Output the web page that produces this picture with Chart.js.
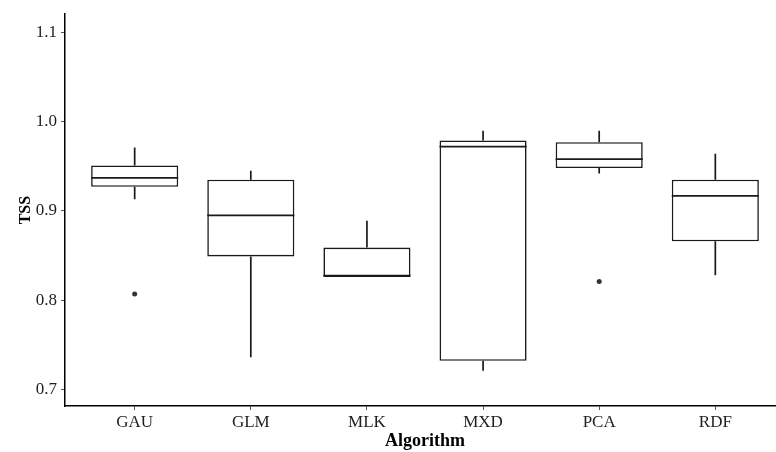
<!DOCTYPE html>
<html>
<head>
<meta charset="utf-8">
<script src="https://cdn.jsdelivr.net/npm/chart.js@4.4.0/dist/chart.umd.min.js"></script>
<style>
  html, body { margin: 0; padding: 0; overflow: hidden; background: #fff; }
  #wrap { width: 789px; height: 452px; }
</style>
</head>
<body>
<div id="wrap"><canvas id="tssChart" width="789" height="452"></canvas></div>
<script>
// box plot values
const algorithms = ['GAU', 'GLM', 'MLK', 'MXD', 'PCA', 'RDF'];
const whiskerLow = [0.913, 0.736, 0.826, 0.721, 0.942, 0.828];
const q1 = [0.927, 0.849, 0.826, 0.732, 0.948, 0.866];
const median = [0.937, 0.895, 0.8275, 0.972, 0.958, 0.917];
const q3 = [0.951, 0.935, 0.859, 0.979, 0.977, 0.935];
const whiskerHigh = [0.971, 0.945, 0.889, 0.990, 0.990, 0.964];
const outlierAlg = ['GAU', 'PCA'];
const outlierValue = [0.807, 0.821];
const yTicks = [0.7, 0.8, 0.9, 1.0, 1.1];

const serif = 'Liberation Serif';
const ink = '#1a1a1a';

// whiskers and median lines, drawn with the chart scales
const boxExtras = {
    id: 'boxExtras',
    afterDatasetsDraw(chart) {
        const { ctx, scales: { x, y } } = chart;
        const bars = chart.getDatasetMeta(0).data;
        ctx.save();
        ctx.strokeStyle = ink;
        ctx.lineWidth = 1.7;
        algorithms.forEach((a, i) => {
            const px = x.getPixelForValue(i + 1);
            ctx.beginPath();
            ctx.moveTo(px, y.getPixelForValue(whiskerLow[i]));
            ctx.lineTo(px, y.getPixelForValue(q1[i]));
            ctx.moveTo(px, y.getPixelForValue(q3[i]));
            ctx.lineTo(px, y.getPixelForValue(whiskerHigh[i]));
            ctx.stroke();

            const bar = bars[i];
            const my = y.getPixelForValue(median[i]);
            ctx.beginPath();
            ctx.moveTo(bar.x - bar.width / 2, my);
            ctx.lineTo(bar.x + bar.width / 2, my);
            ctx.stroke();
        });
        ctx.restore();
    }
};

const ctx = document.getElementById('tssChart').getContext('2d');

new Chart(ctx, {
    type: 'bar',
    data: {
        datasets: [{
            label: 'IQR',
            data: algorithms.map((a, i) => ({ x: i + 1, y: [q1[i], q3[i]] })),
            backgroundColor: '#ffffff',
            borderColor: ink,
            borderWidth: 1.6,
            borderSkipped: false,
            categoryPercentage: 1,
            barPercentage: 0.75
        }, {
            type: 'scatter',
            label: 'Outliers',
            data: outlierAlg.map((a, k) => ({ x: algorithms.indexOf(a) + 1, y: outlierValue[k] })),
            backgroundColor: '#333333',
            borderColor: '#333333',
            pointRadius: 2.5,
            borderWidth: 0
        }]
    },
    options: {
        responsive: false,
        animation: false,
        layout: { padding: { top: 7, left: 0, right: 0, bottom: 0 } },
        plugins: {
            legend: { display: false },
            tooltip: { enabled: false }
        },
        scales: {
            x: {
                type: 'linear',
                min: 0.4,
                max: 6.6,
                offset: false,
                afterBuildTicks: s => { s.ticks = algorithms.map((a, i) => ({ value: i + 1 })); },
                afterFit: s => { s.height = 46; },
                ticks: {
                    callback: v => algorithms[v - 1],
                    font: { family: serif, size: 17 },
                    color: '#1e1e1e',
                    padding: 2,
                    maxRotation: 0,
                    autoSkip: false
                },
                grid: { drawOnChartArea: false, drawTicks: true, tickLength: 4, color: '#555', offset: false },
                border: { display: true, color: '#000', width: 1.5 },
                title: {
                    display: true,
                    text: 'Algorithm',
                    font: { family: serif, size: 18, weight: 'bold' },
                    color: '#000',
                    padding: { top: 0, bottom: 0 }
                }
            },
            y: {
                min: 0.6814,
                max: 1.1205,
                afterBuildTicks: s => { s.ticks = yTicks.map(v => ({ value: v })); },
                afterFit: s => { s.width = 65; },
                ticks: {
                    callback: v => v.toFixed(1),
                    font: { family: serif, size: 17 },
                    color: '#1e1e1e',
                    padding: 4
                },
                grid: { drawOnChartArea: false, drawTicks: true, tickLength: 4, color: '#555' },
                border: { display: true, color: '#000', width: 1.5 },
                title: {
                    display: true,
                    text: 'TSS',
                    font: { family: serif, size: 16, weight: 'bold' },
                    color: '#000',
                    padding: { top: 16.5, bottom: 0 }
                }
            }
        }
    },
    plugins: [boxExtras]
});
</script>
</body>
</html>
